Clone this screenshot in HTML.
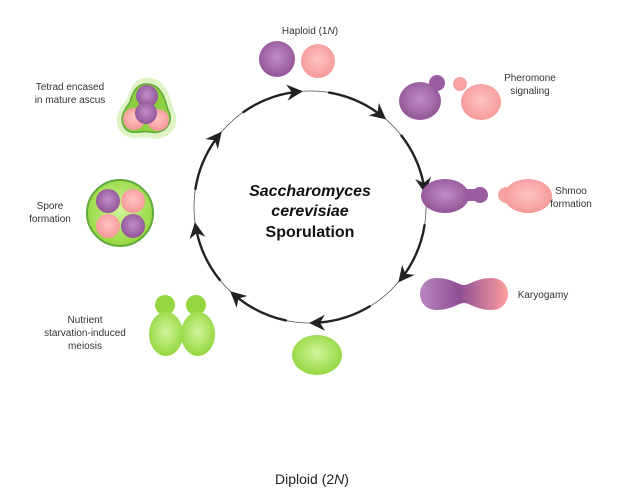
<!DOCTYPE html>
<html><head><meta charset="utf-8"><style>
html,body{margin:0;padding:0;background:#fff;}
svg{display:block;font-family:"Liberation Sans",sans-serif;}
</style></head><body>
<svg width="626" height="488" viewBox="0 0 626 488" xmlns="http://www.w3.org/2000/svg">
<defs>
<radialGradient id="pu" cx="50%" cy="45%" r="60%"><stop offset="0" stop-color="#c08ec6"/><stop offset="1" stop-color="#8e4f93"/></radialGradient>
<radialGradient id="pk" cx="50%" cy="45%" r="60%"><stop offset="0" stop-color="#ffc4c4"/><stop offset="1" stop-color="#f59494"/></radialGradient>
<radialGradient id="gr" cx="50%" cy="45%" r="60%"><stop offset="0" stop-color="#d2f59a"/><stop offset="1" stop-color="#8fd438"/></radialGradient>
<linearGradient id="ka" x1="0" x2="1"><stop offset="0" stop-color="#b886c0"/><stop offset="0.45" stop-color="#8e4f93"/><stop offset="1" stop-color="#ff9e9e"/></linearGradient>
<path id="ah" d="M3,0 L-13,-8 L-8,0 L-13,8 Z" fill="#222"/>
</defs>

<!-- cycle -->
<circle cx="310" cy="207" r="116" fill="none" stroke="#555" stroke-width="0.8"/>
<g fill="none" stroke="#222" stroke-width="2.4" stroke-linecap="round">
<path d="M195.4,188.9 A116,116 0 0 1 215.0,140.4"/>
<path d="M243.5,112.0 A116,116 0 0 1 291.9,92.4"/>
<path d="M329.1,92.6 A116,116 0 0 1 377.4,112.6"/>
<path d="M401.4,135.6 A116,116 0 0 1 423.4,182.9"/>
<path d="M424.6,225.1 A116,116 0 0 1 405.0,273.6"/>
<path d="M369.7,306.4 A116,116 0 0 1 320.1,322.5"/>
<path d="M285.9,320.4 A116,116 0 0 1 238.6,298.4"/>
<path d="M219.8,280.0 A116,116 0 0 1 197.0,233.1"/>
</g>
<use href="#ah" transform="translate(219.8,134.0) rotate(-51)"/>
<use href="#ah" transform="translate(299.9,91.5) rotate(-5)"/>
<use href="#ah" transform="translate(383.8,117.5) rotate(39.5)"/>
<use href="#ah" transform="translate(424.9,190.9) rotate(82)"/>
<use href="#ah" transform="translate(400.2,280.0) rotate(129)"/>
<use href="#ah" transform="translate(312.0,323.0) rotate(179)"/>
<use href="#ah" transform="translate(232.4,293.2) rotate(222)"/>
<use href="#ah" transform="translate(195.4,225.1) rotate(261)"/>

<!-- Haploid -->
<text x="310" y="34" font-size="10" text-anchor="middle" fill="#333">Haploid (1<tspan font-style="italic">N</tspan>)</text>
<circle cx="277" cy="59" r="18" fill="url(#pu)"/>
<circle cx="318" cy="61" r="17" fill="url(#pk)"/>

<!-- Pheromone -->
<circle cx="437" cy="83" r="8" fill="#9a5c9f"/>
<ellipse cx="420" cy="101" rx="21" ry="19" fill="url(#pu)"/>
<circle cx="460" cy="84" r="7" fill="#f9a4a4"/>
<ellipse cx="481" cy="102" rx="20" ry="18" fill="url(#pk)"/>
<text x="530" y="81" font-size="10" text-anchor="middle" fill="#333">Pheromone</text>
<text x="530" y="94" font-size="10" text-anchor="middle" fill="#333">signaling</text>

<!-- Shmoo -->
<circle cx="480" cy="195" r="8" fill="#9a5c9f"/>
<rect x="455" y="189" width="25" height="12" fill="#9a5c9f"/>
<ellipse cx="445" cy="196" rx="24" ry="17" fill="url(#pu)"/>
<circle cx="506" cy="195" r="8" fill="#f9a4a4"/>
<rect x="506" y="189" width="20" height="12" fill="#f9a4a4"/>
<ellipse cx="528" cy="196" rx="24" ry="17" fill="url(#pk)"/>
<text x="571" y="194" font-size="10" text-anchor="middle" fill="#333">Shmoo</text>
<text x="571" y="207" font-size="10" text-anchor="middle" fill="#333">formation</text>

<!-- Karyogamy -->
<path d="M436,278 C452,278 458,285 464,285 C470,285 476,278 492,278 C502,278 508,286 508,294 C508,302 502,310 492,310 C476,310 470,303 464,303 C458,303 452,310 436,310 C426,310 420,302 420,294 C420,286 426,278 436,278 Z" fill="url(#ka)"/>
<text x="543" y="298" font-size="10" text-anchor="middle" fill="#333">Karyogamy</text>

<!-- Diploid -->
<ellipse cx="317" cy="355" rx="25" ry="20" fill="url(#gr)"/>

<!-- Meiosis -->
<circle cx="165" cy="305" r="10" fill="#95d640"/>
<ellipse cx="166" cy="334" rx="17" ry="22" fill="url(#gr)"/>
<circle cx="196" cy="305" r="10" fill="#95d640"/>
<ellipse cx="198" cy="334" rx="17" ry="22" fill="url(#gr)"/>
<text x="85" y="323" font-size="10" text-anchor="middle" fill="#333">Nutrient</text>
<text x="85" y="336" font-size="10" text-anchor="middle" fill="#333">starvation-induced</text>
<text x="85" y="349" font-size="10" text-anchor="middle" fill="#333">meiosis</text>

<!-- Spore -->
<circle cx="120" cy="213" r="33" fill="url(#gr)" stroke="#5fa83a" stroke-width="2"/>
<circle cx="108" cy="201" r="12" fill="url(#pu)"/>
<circle cx="133" cy="201" r="12" fill="url(#pk)"/>
<circle cx="108" cy="226" r="12" fill="url(#pk)"/>
<circle cx="133" cy="226" r="12" fill="url(#pu)"/>
<text x="50" y="209" font-size="10" text-anchor="middle" fill="#333">Spore</text>
<text x="50" y="222" font-size="10" text-anchor="middle" fill="#333">formation</text>

<!-- Tetrad -->
<path d="M145,78 C166,76 170,98 174,110 C182,126 168,142 150,138 C140,136 128,142 120,131 C112,120 120,107 127,99 C131,87 135,79 145,78 Z" fill="#dff3c4"/>
<path d="M145,84 C162,83 165,100 168,110 C175,123 164,135 150,132 C140,130 131,136 125,128 C118,119 125,109 130,102 C133,91 137,85 145,84 Z" fill="#8cd040" stroke="#5fa83a" stroke-width="1.5"/>
<circle cx="134" cy="119" r="11" fill="url(#pk)"/>
<circle cx="158" cy="120" r="11" fill="url(#pk)"/>
<circle cx="147" cy="96" r="11" fill="url(#pu)"/>
<circle cx="146" cy="113" r="11" fill="url(#pu)"/>
<text x="70" y="90" font-size="10" text-anchor="middle" fill="#333">Tetrad encased</text>
<text x="70" y="103" font-size="10" text-anchor="middle" fill="#333">in mature ascus</text>

<!-- Center -->
<text x="310" y="196" font-size="16" font-weight="bold" font-style="italic" text-anchor="middle" fill="#111">Saccharomyces</text>
<text x="310" y="216" font-size="16" font-weight="bold" font-style="italic" text-anchor="middle" fill="#111">cerevisiae</text>
<text x="310" y="237" font-size="16" font-weight="bold" text-anchor="middle" fill="#111">Sporulation</text>

<text x="312" y="484" font-size="14" text-anchor="middle" fill="#222">Diploid (2<tspan font-style="italic">N</tspan>)</text>
</svg>
</body></html>
